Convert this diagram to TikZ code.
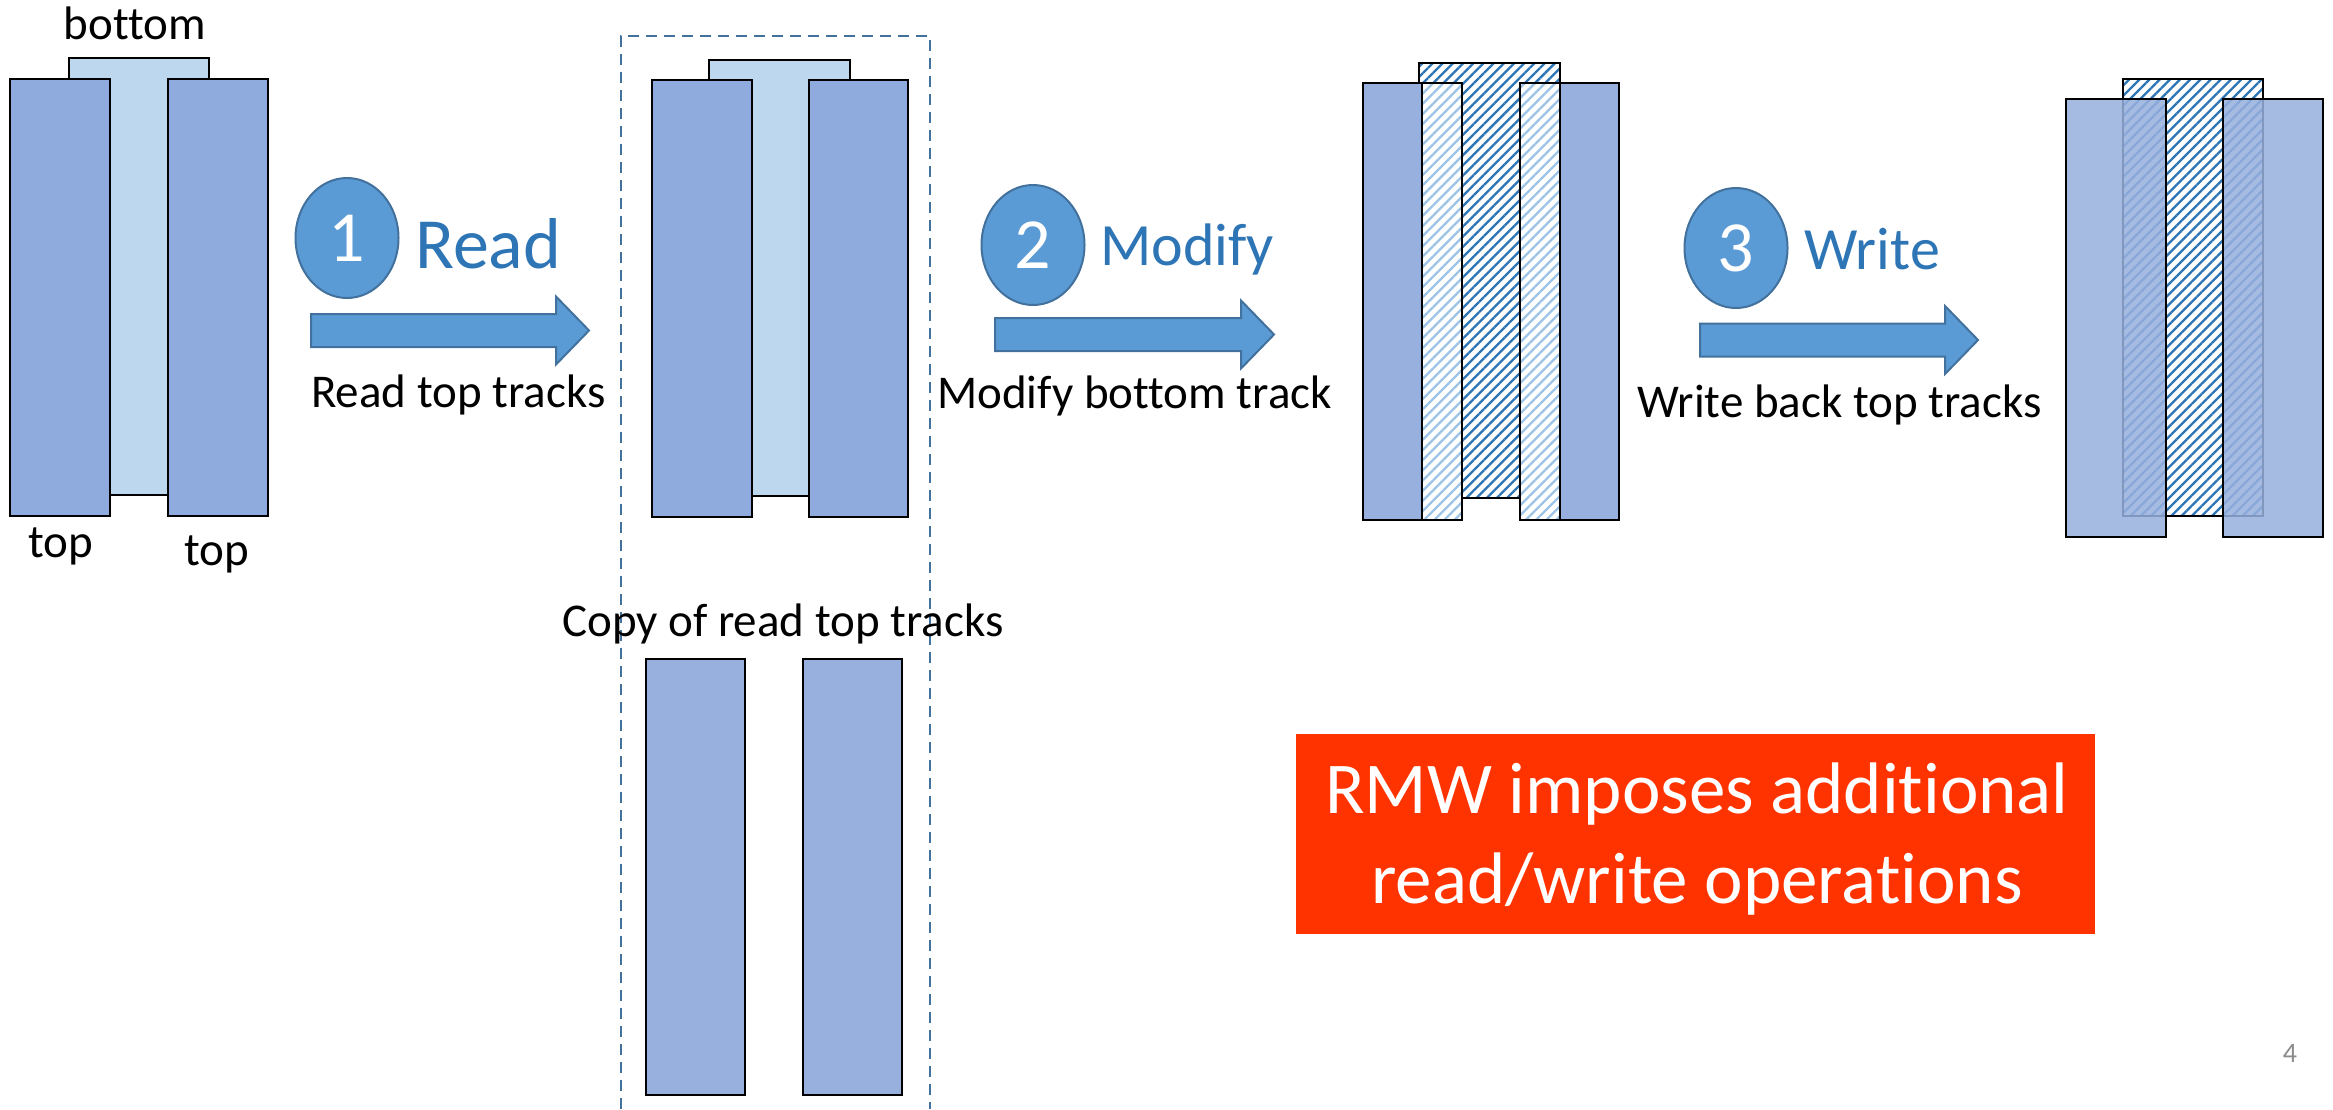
\documentclass[tikz,border=0pt]{standalone}
\usepackage{fontspec}
\setmainfont{Carlito}[Ligatures=NoCommon]
\usetikzlibrary{patterns.meta,shapes.geometric}

\definecolor{trackblue}{HTML}{8FAADC}
\definecolor{tracklight}{HTML}{98B0DE}
\definecolor{bottomblue}{HTML}{BDD7EE}
\definecolor{stepfill}{HTML}{5B9BD5}
\definecolor{stepedge}{HTML}{41719C}
\definecolor{steptext}{HTML}{2E75B6}
\definecolor{hatchdark}{HTML}{2E75B6}
\definecolor{hatchlight}{HTML}{9DC3E6}
\definecolor{alertred}{HTML}{FF3300}
\definecolor{pagegrey}{HTML}{8C8C8C}

\tikzset{
  trackline/.style={draw=black, line width=2.6pt},
  toptrack/.style={trackline, fill=trackblue},
  copytrack/.style={trackline, fill=tracklight},
  bottomtrack/.style={trackline, fill=bottomblue},
  stepcircle/.style={ellipse, draw=stepedge, line width=2pt, fill=stepfill,
    minimum width=103pt, minimum height=120pt, inner sep=0pt, text=white,
    font=\fontsize{72}{86}\selectfont},
  stepname/.style={anchor=base west, text=steptext, inner sep=0pt},
  caption/.style={anchor=base west, inner sep=0pt, font=\fontsize{47}{56}\selectfont},
  blockarrow/.style={draw=stepedge, line width=2pt, fill=stepfill},
  hatchdk/.style={pattern={Lines[angle=45,distance=7.2pt,line width=2.3pt]}, pattern color=hatchdark},
  hatchlt/.style={pattern={Lines[angle=45,distance=7.2pt,line width=2.3pt]}, pattern color=hatchlight},
}

% block arrow: start x, centre y, tip x
\newcommand\blockarrow[3]{%
  \draw[blockarrow]
    (#1,#2-16.5) -- (#3-33,#2-16.5) -- (#3-33,#2-34) -- (#3,#2)
    -- (#3-33,#2+34) -- (#3-33,#2+16.5) -- (#1,#2+16.5) -- cycle;}

% hatched rectangle on white: colour style, corners
\newcommand\hatchrect[3]{%
  \fill[white] #2 rectangle #3;
  \path[#1] #2 rectangle #3;
  \draw[trackline] #2 rectangle #3;}

\begin{document}
\begin{tikzpicture}[x=1pt,y=-1pt]
\useasboundingbox (0,0) rectangle (2333,1109);
\fill[white] (0,0) rectangle (2333,1109);

% ---- initial layout: two top tracks over one bottom track
\draw[bottomtrack] (69,58) rectangle (209,495);
\draw[toptrack] (10,79) rectangle (110,516);
\draw[toptrack] (168,79) rectangle (268,516);
\node[anchor=base, inner sep=0pt, font=\fontsize{47}{56}\selectfont] (lblbottom) at (135,39) {bottom};
\node[anchor=base, inner sep=0pt, font=\fontsize{47}{56}\selectfont] (lbltopa) at (61,557) {top};
\node[anchor=base, inner sep=0pt, font=\fontsize{47}{56}\selectfont] (lbltopb) at (217,565) {top};

% ---- step 1: read
\node[stepcircle] (c1) at (347,238) {1};
\node[stepname, font=\fontsize{72}{86}\selectfont] (read) at (415,268) {Read};
\blockarrow{311}{330.5}{589}
\node[caption] (readcap) at (311,407) {Read top tracks};

% ---- read copy region
\draw[stepedge, line width=2pt, dash pattern=on 11pt off 7pt]
  (621,1109) -- (621,36) -- (930,36) -- (930,1109);
\draw[bottomtrack] (709,60) rectangle (850,496);
\draw[toptrack] (652,80) rectangle (752,517);
\draw[toptrack] (809,80) rectangle (908,517);
\node[caption] (copycap) at (562,636) {Copy of read top tracks};
\draw[copytrack] (646,659) rectangle (745,1095);
\draw[copytrack] (803,659) rectangle (902,1095);

% ---- step 2: modify
\node[stepcircle] (c2) at (1033,245) {2};
\node[stepname, font=\fontsize{60}{72}\selectfont] (modify) at (1100,265) {Modify};
\blockarrow{995}{334.5}{1274}
\node[caption] (modcap) at (937,408) {Modify bottom track};

% ---- modified bottom track with the overlapped top tracks
\hatchrect{hatchdk}{(1419,63)}{(1560,498)}
\draw[copytrack] (1363,83) rectangle (1462,520);
\hatchrect{hatchlt}{(1422,83)}{(1462,520)}
\draw[copytrack] (1520,83) rectangle (1619,520);
\hatchrect{hatchlt}{(1520,83)}{(1560,520)}

% ---- step 3: write
\node[stepcircle] (c3) at (1736,248) {3};
\node[stepname, font=\fontsize{60}{72}\selectfont] (write) at (1804,269) {Write};
\blockarrow{1700}{340}{1978}
\node[caption] (writecap) at (1637,417) {Write back top tracks};

% ---- written back top tracks
\hatchrect{hatchdk}{(2123,79)}{(2263,516)}
\draw[trackline, fill=tracklight, fill opacity=0.86] (2066,99) rectangle (2166,537);
\draw[trackline, fill=tracklight, fill opacity=0.86] (2223,99) rectangle (2323,537);

% ---- note
\node[fill=alertred, minimum width=799pt, minimum height=200pt, inner sep=0pt] (note) at (1695.5,834) {};
\node[anchor=base, inner sep=0pt, text=white, font=\fontsize{73}{88}\selectfont] (notea) at (1697,813) {RMW imposes additional};
\node[anchor=base, inner sep=0pt, text=white, font=\fontsize{73}{88}\selectfont] (noteb) at (1697,903) {read/write operations};

\node[text=pagegrey, inner sep=0pt, font=\fontsize{28}{34}\selectfont] (pagenum) at (2290,1053) {4};
\end{tikzpicture}
\end{document}
